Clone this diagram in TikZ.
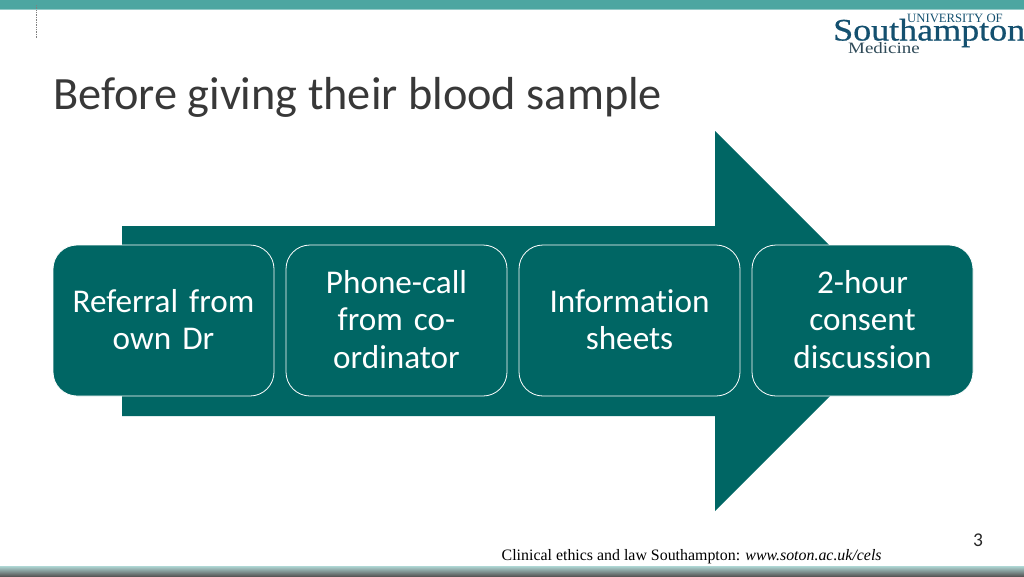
\documentclass[tikz,border=0pt]{standalone}
\usepackage{fontspec}
\setmainfont{Carlito}[Ligatures=NoCommon]
\newfontfamily\logofont{Liberation Serif}
\newfontfamily\logowide{Liberation Serif}[FakeStretch=1.15,FakeBold=0.6]
\newfontfamily\logomed{Liberation Serif}[FakeStretch=1.2]
\usetikzlibrary{positioning}
\definecolor{slidegreen}{HTML}{006664}
\definecolor{barteal}{HTML}{4CA6A1}
\definecolor{logoblue}{HTML}{14506F}
\definecolor{logogrey}{HTML}{2F4A58}
\tikzset{
  stepbox/.style={draw=white,fill=slidegreen,rounded corners=24pt,line width=0.8pt,
    minimum width=221pt,minimum height=151pt,text width=200pt,align=center,
    text=white,font=\fontsize{33.2}{37.4}\selectfont,inner sep=0pt,
    execute at end node=\par\vspace*{2pt}},
  logotext/.style={inner sep=0pt,text=logoblue,font=\logofont}
}
\begin{document}
\begin{tikzpicture}[x=1pt,y=-1pt]
  \useasboundingbox (0,0) rectangle (1024,576);
  % top and bottom bars
  \fill [barteal] (0,0) rectangle (1024,9);
  \fill [barteal!60] (0,9) rectangle (1024,10);
  \shade [top color=barteal!45,bottom color=black!65] (0,566) rectangle (1024,576);
  \draw [gray,densely dotted,line width=0.7pt] (36.5,5) -- (36.5,38);
  % big arrow
  \fill [slidegreen] (122,226) -- (715,226) -- (715,131) -- (905,321)
    -- (715,511) -- (715,416) -- (122,416) -- cycle;
  % boxes
  \node [stepbox] (referral) at (163.5,320.5) {Referral from\\own Dr};
  \node [stepbox,right=11.2pt of referral] (phone) {Phone-call\\from co-\\ordinator};
  \node [stepbox,right=11.2pt of phone] (sheets) {Information\\sheets};
  \node [stepbox,right=11.2pt of sheets] (consent) {2-hour\\consent\\discussion};
  % title and footer
  \node [anchor=base west,inner sep=0pt,text=black!78,font=\fontsize{46.3}{46.3}\selectfont] (title) at (53,109) {Before giving their blood sample};
  \node [anchor=base west,inner sep=0pt,font=\logofont\fontsize{15.9}{15.9}\selectfont] (footer) at (501.5,560) {Clinical ethics and law Southampton: \textit{www.soton.ac.uk/cels}};
  \node [anchor=base,inner sep=0pt,text=black!85,font=\fontsize{19.5}{19.5}\selectfont] (pagenum) at (978,546.5) {3};
  % logo
  \node [logotext,anchor=base east,font=\logofont\fontsize{12.7}{12.7}\selectfont] (uni) at (1003,22.5) {UNIVERSITY OF};
  \node [logotext,anchor=base west,font=\logowide\fontsize{31.3}{31.3}\selectfont] (soton) at (833,40.5) {Southampton};
  \node [logotext,text=logogrey,anchor=base west,font=\logomed\fontsize{15.8}{15.8}\selectfont] (med) at (848,53) {Medicine};
\end{tikzpicture}
\end{document}
